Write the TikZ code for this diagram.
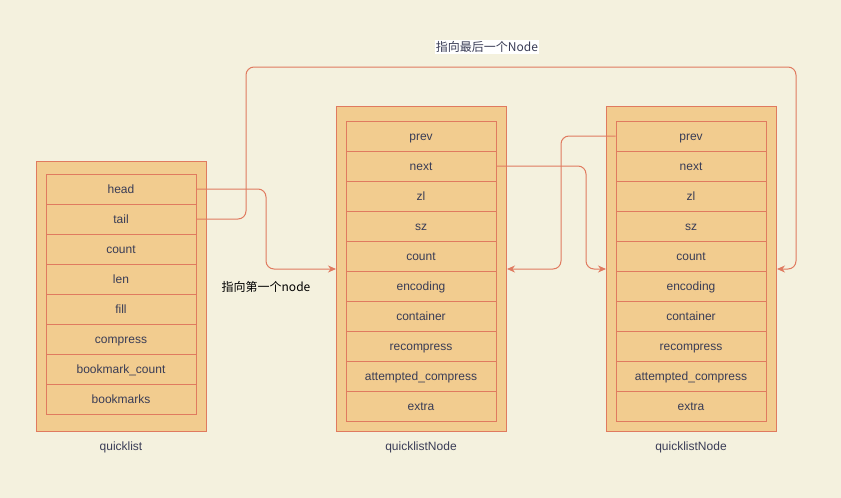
\documentclass[tikz,border=0pt]{standalone}
\usepackage{fontspec}
\setmainfont{Liberation Sans}
\newfontfamily\cjk{Noto Sans CJK SC}
\usetikzlibrary{arrows.meta}
\definecolor{bgc}{HTML}{F4F1DE}
\definecolor{fillc}{HTML}{F2CC8F}
\definecolor{strokec}{HTML}{E07A5F}
\definecolor{txtc}{HTML}{393C56}
\begin{document}
\begin{tikzpicture}[x=1pt,y=-1pt,
  outerbox/.style={draw=strokec, fill=fillc, line width=1pt, inner sep=0pt, minimum width=170pt, anchor=north west},
  rowbox/.style={draw=strokec, fill=fillc, line width=1pt, inner sep=0pt, minimum width=150pt, minimum height=30pt, text height=10pt, text depth=2pt, text=txtc, font=\fontsize{12}{14}\selectfont},
  caption/.style={text=txtc, font=\fontsize{12}{14}\selectfont, inner sep=1pt},
  conn/.style={draw=strokec, line width=1pt, rounded corners=8pt, -{Stealth[length=8pt,width=7pt]}}
]
\fill[bgc] (0,0) rectangle (841,498);
\useasboundingbox (0,0) rectangle (841,498);

% quicklist
\node[outerbox, minimum height=270pt] (qlbox) at (36,161) {};
\foreach \t [count=\i] in {head,tail,count,len,fill,compress,bookmark\_count,bookmarks}{
  \node[rowbox] (ql\i) at (121,{159+30*\i}) {\t};
}
\node[caption] (qlcap) at (121,447) {quicklist};

% middle quicklistNode
\node[outerbox, minimum height=325pt] (midbox) at (336,106) {};
\foreach \t [count=\i] in {prev,next,zl,sz,count,encoding,container,recompress,attempted\_compress,extra}{
  \node[rowbox] (m\i) at (421,{106+30*\i}) {\t};
}
\node[caption] (mcap) at (421,447) {quicklistNode};

% right quicklistNode
\node[outerbox, minimum height=325pt] (rbox) at (606,106) {};
\foreach \t [count=\i] in {prev,next,zl,sz,count,encoding,container,recompress,attempted\_compress,extra}{
  \node[rowbox] (r\i) at (691,{106+30*\i}) {\t};
}
\node[caption] (rcap) at (691,447) {quicklistNode};

% connectors
\coordinate (hturn) at (266,189);
\coordinate (tturn) at (246,219);
\coordinate (ttop) at (796,67);
\coordinate (nturn) at (586,166);
\coordinate (pturn) at (561,136);

\draw[conn] (ql1.east) -- (hturn) |- (midbox.west);
\draw[conn] (ql2.east) -- (tturn) |- (ttop) |- (rbox.east);
\draw[conn] (m2.east) -- (nturn) |- (rbox.west);
\draw[conn] (r1.west) -- (pturn) |- (midbox.east);

% labels
\node[text=black, font=\fontsize{12}{14}\selectfont, inner sep=1pt] (lfirst) at (266,287) {\cjk 指向第一个node};
\node[fill=white, text=txtc, font=\fontsize{12}{14}\selectfont, inner sep=1pt] (llast) at (487,47) {\cjk 指向最后一个Node};
\end{tikzpicture}
\end{document}
